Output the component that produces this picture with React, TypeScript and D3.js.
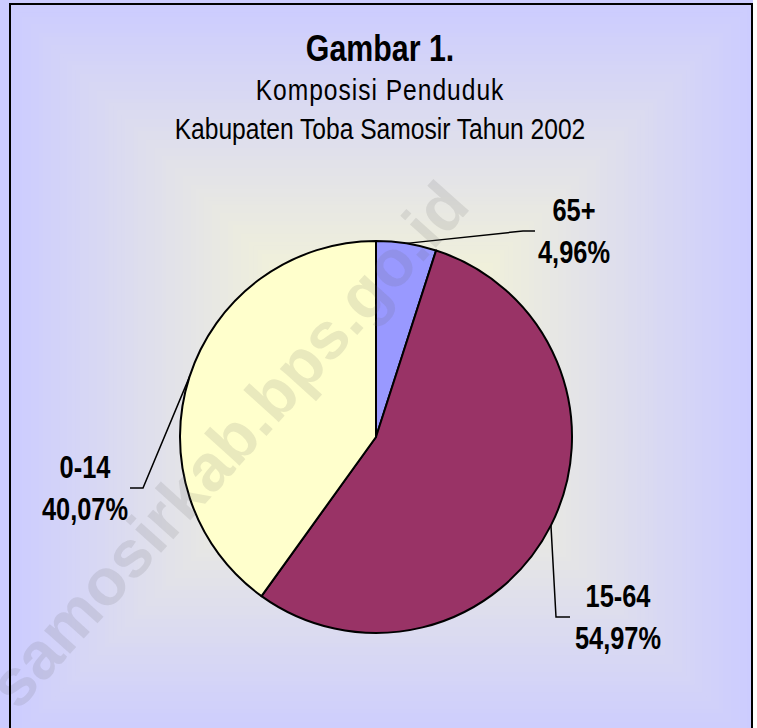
import React from 'react';
import * as d3 from 'd3';

// data
const categories = ['65+', '15-64', '0-14'];
const shares = [4.96, 54.97, 40.07];
const shareLabels = ['4,96%', '54,97%', '40,07%'];
const sliceColors = ['#9999FF', '#993366', '#FFFFCC'];
const titleLines = ['Gambar 1.', 'Komposisi Penduduk', 'Kabupaten Toba Samosir Tahun 2002'];
const watermark = 'samosirkab.bps.go.id';

const W = 757;
const H = 728;
const frame = { x0: 10, y0: 4, x1: 752, y1: 742 };
const cx = 376;
const cy = 437;
const R = 196;

// elbow of each leader line (relative to pie centre), tail length, label centre offset
const leaderLayout = [
  { ex: 147, ey: -206, tail: 12, tx: 51 },
  { ex: 180, ey: 180, tail: 14, tx: 62 },
  { ex: -233, ey: 51, tail: -13, tx: -58 },
];

// no Arial Narrow here, so squeeze Liberation Sans horizontally
const font = '"Liberation Sans", Arial, sans-serif';
const narrow = 0.82;

const NarrowText = ({ x, y, size, bold, spacing, children }: any) => (
  <text
    transform={`translate(${x},${y}) scale(${narrow},1)`}
    textAnchor="middle"
    fontFamily={font}
    fontWeight={bold ? 'bold' : 'normal'}
    fontSize={size}
    letterSpacing={spacing || 0}
    fill="#000"
  >
    {children}
  </text>
);

const App = () => {
  const pie = d3.pie<number>().value((d) => d).sort(null);
  const arcs = pie(shares);
  const arc = d3.arc<d3.PieArcDatum<number>>().innerRadius(0).outerRadius(R);

  // rectangular "from centre" fill, like the spreadsheet gradient
  const steps = 90;
  const mix = d3.interpolateRgb('#CCCCFF', '#FFFFCC');
  const fcx = (frame.x0 + frame.x1) / 2;
  const fcy = (frame.y0 + frame.y1) / 2;
  const hw = (frame.x1 - frame.x0) / 2;
  const hh = (frame.y1 - frame.y0) / 2;
  const bands = d3.range(steps).map((i) => {
    const t = i / steps;
    return { x: fcx - hw * (1 - t), y: fcy - hh * (1 - t), w: 2 * hw * (1 - t), h: 2 * hh * (1 - t), c: mix(t) };
  });

  return (
    <svg width={W} height={H} style={{ position: 'absolute', left: 0, top: 0 }}>
      <rect x={0} y={0} width={W} height={H} fill="#CCCCFF" />
      <rect x={frame.x1 + 1} y={0} width={W - frame.x1} height={H} fill="#FFFFFF" />
      {bands.map((b, i) => (
        <rect key={i} x={b.x} y={b.y} width={b.w} height={b.h} fill={b.c} />
      ))}

      <NarrowText x={cx + 4} y={61} size={37} bold>{titleLines[0]}</NarrowText>
      <NarrowText x={cx + 4} y={100} size={30} spacing={1.2}>{titleLines[1]}</NarrowText>
      <NarrowText x={cx + 4} y={139} size={30}>{titleLines[2]}</NarrowText>

      <g transform={`translate(${cx},${cy})`}>
        {arcs.map((a, i) => (
          <path key={categories[i]} d={arc(a) || ''} fill={sliceColors[i]} stroke="#000" strokeWidth={2} strokeLinejoin="round" />
        ))}
        {arcs.map((a, i) => {
          const mid = (a.startAngle + a.endAngle) / 2;
          const sx = Math.sin(mid) * R;
          const sy = -Math.cos(mid) * R;
          const l = leaderLayout[i];
          return (
            <g key={'lab' + i}>
              <polyline
                points={`${sx},${sy} ${l.ex},${l.ey} ${l.ex + l.tail},${l.ey}`}
                fill="none"
                stroke="#000"
                strokeWidth={1.5}
              />
              <NarrowText x={l.ex + l.tx} y={l.ey - 10} size={31} bold>{categories[i]}</NarrowText>
              <NarrowText x={l.ex + l.tx} y={l.ey + 32} size={31} bold>{shareLabels[i]}</NarrowText>
            </g>
          );
        })}
      </g>

      <text
        x={0}
        y={0}
        transform="translate(232,448) rotate(-48)"
        textAnchor="middle"
        dominantBaseline="middle"
        fontFamily={font}
        fontWeight="bold"
        fontSize={66}
        fill="#646464"
        fillOpacity={0.14}
      >
        {watermark}
      </text>

      <rect
        x={frame.x0}
        y={frame.y0}
        width={frame.x1 - frame.x0}
        height={frame.y1 - frame.y0}
        fill="none"
        stroke="#000"
        strokeWidth={2}
      />
    </svg>
  );
};

export default App;
